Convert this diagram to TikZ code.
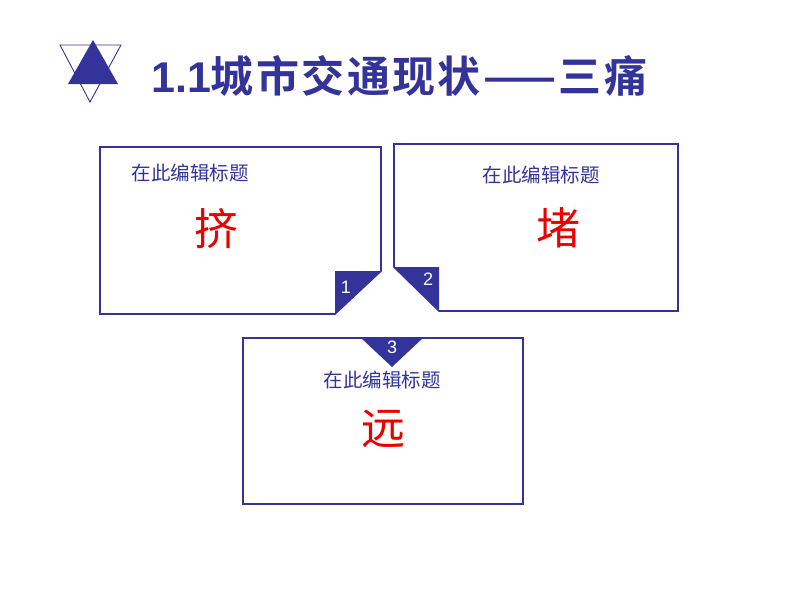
\documentclass[tikz,border=0pt]{standalone}
\usepackage{fontspec}
\usepackage{tikz}
\newfontfamily\cjk{Noto Sans CJK SC}
\newfontfamily\cjkbold[LetterSpace=5.5]{Noto Sans CJK SC Bold}
\newfontfamily\numfont{Liberation Sans}
\definecolor{navy}{RGB}{51,51,153}
\definecolor{hotred}{RGB}{235,0,0}

\begin{document}
\begin{tikzpicture}[x=1pt,y=-1pt,
        boxline/.style={draw=navy,line width=1.6pt,line join=miter},
        fold/.style={fill=navy},
        hint/.style={font={\cjk\fontsize{19.5}{19.5}\selectfont},text=navy,inner sep=0pt},
        pain/.style={font={\cjk\fontsize{44}{44}\selectfont},text=hotred,inner sep=0pt},
        num/.style={font={\numfont\fontsize{18}{18}\selectfont},text=white,inner sep=0pt}]
        \useasboundingbox[fill=white] (0,0) rectangle (800,600);
        % logo
        \draw[navy,line width=0.9pt] (60,45) -- (121,45) -- (90,102) -- cycle;
        \fill[navy] (93,40) -- (118,84) -- (68,84) -- cycle;
        \node[font={\cjkbold\fontsize{43}{43}\selectfont}, text=navy, anchor=west, inner sep=0pt] (title) at (151,76) {{\numfont\bfseries 1.1}城市交通现状——三痛};
        % box 1
        \draw[boxline] (100,147) -- (381,147) -- (381,271) -- (335,314) -- (100,314) -- cycle;
        \fill[fold] (335,271) -- (381,271) -- (335,314) -- cycle;
        \node[hint] (hint1) at (190,173) {在此编辑标题};
        \node[pain] (pain1) at (216,229) {挤};
        \node[num] (num1) at (346,287) {1};
        % box 2
        \draw[boxline] (394,144) -- (678,144) -- (678,311) -- (439,311) -- (394,267) -- cycle;
        \fill[fold] (394,267) -- (439,267) -- (439,311) -- cycle;
        \node[hint] (hint2) at (541,175) {在此编辑标题};
        \node[pain] (pain2) at (558,228) {堵};
        \node[num] (num2) at (428,279) {2};
        % box 3
        \draw[boxline] (243,338) rectangle (523,504);
        \fill[fold] (360,337) -- (424,337) -- (392,367) -- cycle;
        \node[hint] (hint3) at (382,380) {在此编辑标题};
        \node[pain] (pain3) at (383,429) {远};
        \node[num] (num3) at (392,347) {3};
\end{tikzpicture}
\end{document}
